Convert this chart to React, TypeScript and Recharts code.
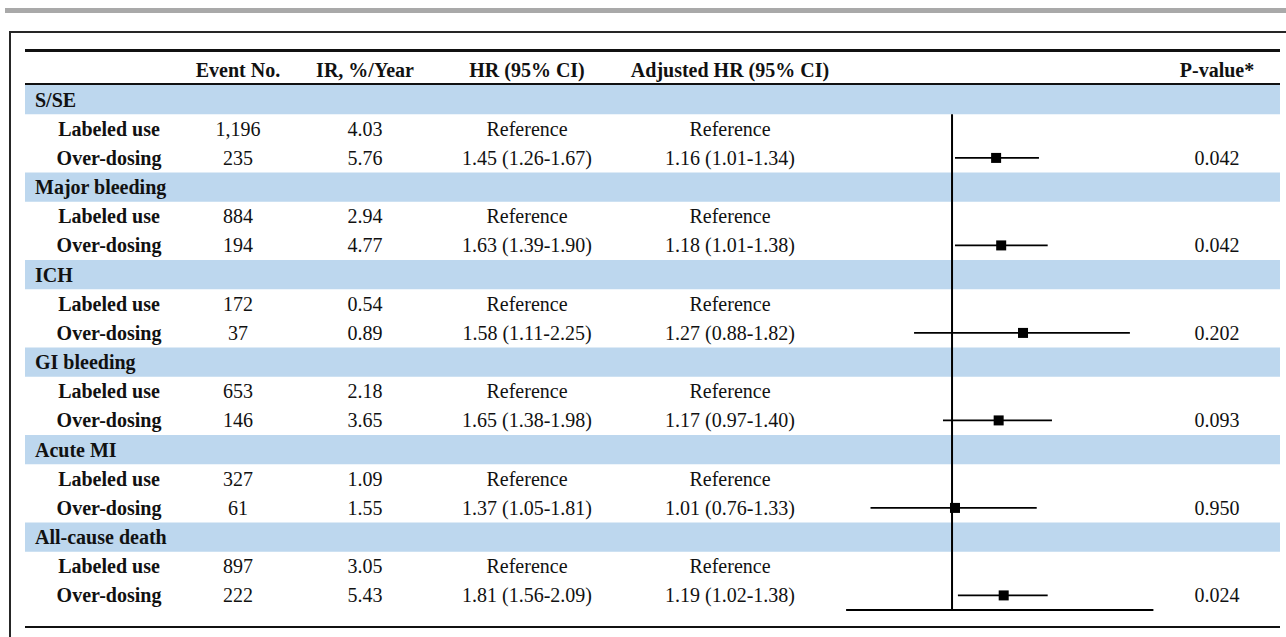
import {
  ComposedChart,
  XAxis,
  YAxis,
  Scatter,
  ErrorBar,
  ReferenceArea,
  ReferenceLine,
} from "recharts";

const outcomes = ["S/SE", "Major bleeding", "ICH", "GI bleeding", "Acute MI", "All-cause death"];
const subgroups = ["Labeled use", "Over-dosing"];
const headers = ["Event No.", "IR, %/Year", "HR (95% CI)", "Adjusted HR (95% CI)", "P-value*"];

const labeledEvents = [1196, 884, 172, 653, 327, 897];
const overdoseEvents = [235, 194, 37, 146, 61, 222];
const labeledRate = [4.03, 2.94, 0.54, 2.18, 1.09, 3.05];
const overdoseRate = [5.76, 4.77, 0.89, 3.65, 1.55, 5.43];

const crudeHR = [1.45, 1.63, 1.58, 1.65, 1.37, 1.81];
const crudeLow = [1.26, 1.39, 1.11, 1.38, 1.05, 1.56];
const crudeHigh = [1.67, 1.9, 2.25, 1.98, 1.81, 2.09];

const adjHR = [1.16, 1.18, 1.27, 1.17, 1.01, 1.19];
const adjLow = [1.01, 1.01, 0.88, 0.97, 0.76, 1.02];
const adjHigh = [1.34, 1.38, 1.82, 1.4, 1.33, 1.38];

const pValues = ["0.042", "0.042", "0.202", "0.093", "0.950", "0.024"];

// forest axis runs from 0.7 to ~2 on the log scale
const axisMin = 0.7;
const axisMax = 1.97;

const SERIF = '"Liberation Serif", "Times New Roman", serif';
const INK = "#111";
const BAND = "#bdd7ee";
const W = 1286;
const H = 637;

// column centres for the table text
const colX = [109, 238, 365, 527, 730, 1217];

// three rows per outcome: group heading, labeled use, over-dosing
const rows = outcomes.flatMap((_, i) => [
  { kind: "group", i },
  { kind: "labeled", i },
  { kind: "over", i },
]);
const rowTicks = rows.map((_, r) => r + 0.5);

const fmtCI = (hr: number, lo: number, hi: number) =>
  `${hr.toFixed(2)} (${lo.toFixed(2)}-${hi.toFixed(2)})`;

const points = outcomes.map((_, i) => ({
  hr: adjHR[i],
  row: i * 3 + 2.5,
  ci: [adjHR[i] - adjLow[i], adjHigh[i] - adjHR[i]],
}));

function RowTick({ y, payload }: any) {
  const row = rows[Math.floor(payload.value)];
  if (!row) return null;
  const i = row.i;
  if (row.kind === "group") {
    return (
      <text x={35} y={y} dominantBaseline="central" fontFamily={SERIF} fontSize={20} fontWeight="bold" fill={INK}>
        {outcomes[i]}
      </text>
    );
  }
  const over = row.kind === "over";
  const cells = over
    ? [
        subgroups[1],
        overdoseEvents[i].toLocaleString("en-US"),
        overdoseRate[i].toFixed(2),
        fmtCI(crudeHR[i], crudeLow[i], crudeHigh[i]),
        fmtCI(adjHR[i], adjLow[i], adjHigh[i]),
        pValues[i],
      ]
    : [
        subgroups[0],
        labeledEvents[i].toLocaleString("en-US"),
        labeledRate[i].toFixed(2),
        "Reference",
        "Reference",
        "",
      ];
  return (
    <g>
      {cells.map((c, k) => (
        <text
          key={k}
          x={colX[k]}
          y={y}
          textAnchor="middle"
          dominantBaseline="central"
          fontFamily={SERIF}
          fontSize={20}
          fontWeight={k === 0 ? "bold" : "normal"}
          fill={INK}
        >
          {c}
        </text>
      ))}
    </g>
  );
}

function Square({ cx, cy }: any) {
  return <rect x={cx - 5} y={cy - 5} width={10} height={10} fill="#000" />;
}

export default function App() {
  return (
    <div style={{ position: "absolute", left: 0, top: 0, width: W, height: H, overflow: "hidden", background: "#fff" }}>
      <div style={{ position: "absolute", left: 5, top: 8, width: W - 5, height: 5, background: "#a9a9a9" }} />
      <div
        style={{
          position: "absolute",
          left: 9,
          top: 31,
          width: 1320,
          height: 700,
          border: "2px solid #262626",
        }}
      />
      <div style={{ position: "absolute", left: 25, top: 49, width: 1255, height: 2.5, background: "#111" }} />
      <div style={{ position: "absolute", left: 25, top: 83, width: 1255, height: 2, background: "#111" }} />
      <div style={{ position: "absolute", left: 25, top: 626, width: 1255, height: 2, background: "#111" }} />
      {headers.map((h, k) => (
        <div
          key={h}
          style={{
            position: "absolute",
            left: colX[k + 1],
            top: 70,
            transform: "translate(-50%, -50%)",
            fontFamily: SERIF,
            fontSize: 20,
            fontWeight: "bold",
            color: INK,
            whiteSpace: "nowrap",
            lineHeight: 1,
          }}
        >
          {h}
        </div>
      ))}
      <div style={{ position: "absolute", left: 0, top: 0 }}>
        <ComposedChart
          width={W}
          height={H}
          margin={{ top: 85, right: 6, bottom: 27, left: 24 }}
        >
          <XAxis
            type="number"
            dataKey="hr"
            scale="log"
            domain={[0.0441, 3.017]}
            allowDataOverflow
            hide
          />
          <YAxis
            type="number"
            dataKey="row"
            domain={[0, rows.length]}
            reversed
            ticks={rowTicks}
            interval={0}
            width={1}
            axisLine={false}
            tickLine={false}
            tick={<RowTick />}
          />
          {outcomes.map((o, i) => (
            <ReferenceArea
              key={o}
              y1={i * 3}
              y2={i * 3 + 1}
              fill={BAND}
              fillOpacity={1}
              stroke="none"
              ifOverflow="visible"
            />
          ))}
          <ReferenceLine
            segment={[
              { x: 1, y: 1 },
              { x: 1, y: rows.length },
            ]}
            stroke="#000"
            strokeWidth={2}
          />
          <ReferenceLine
            segment={[
              { x: axisMin, y: rows.length },
              { x: axisMax, y: rows.length },
            ]}
            stroke="#000"
            strokeWidth={2}
          />
          <Scatter data={points} shape={<Square />} isAnimationActive={false}>
            <ErrorBar dataKey="ci" direction="x" width={0} stroke="#000" strokeWidth={1.8} />
          </Scatter>
        </ComposedChart>
      </div>
    </div>
  );
}
